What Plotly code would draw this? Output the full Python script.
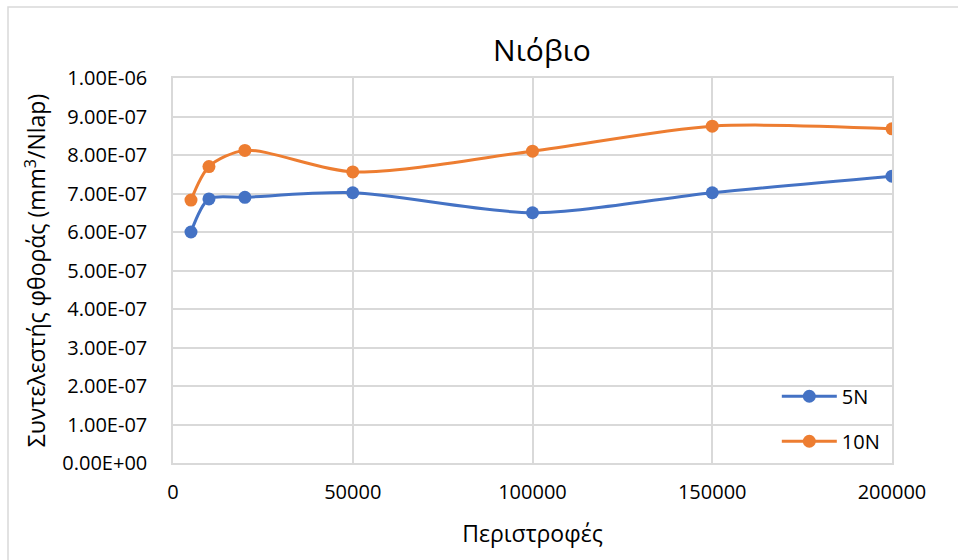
import plotly.graph_objects as go

x_vals = [5000, 10000, 20000, 50000, 100000, 150000, 200000]
y_5n = [6.00e-7, 6.86e-7, 6.90e-7, 7.02e-7, 6.50e-7, 7.02e-7, 7.45e-7]
y_10n = [6.83e-7, 7.70e-7, 8.12e-7, 7.56e-7, 8.10e-7, 8.75e-7, 8.68e-7]
y_ticks = [i * 1e-7 for i in range(11)]
y_ticktext = ["0.00E+00", "1.00E-07", "2.00E-07", "3.00E-07", "4.00E-07", "5.00E-07",
              "6.00E-07", "7.00E-07", "8.00E-07", "9.00E-07", "1.00E-06"]
x_ticks = [0, 50000, 100000, 150000, 200000]

FONT = "Open Sans"
W, H = 958, 560
L, R, T, B = 173, 66, 78, 97
pw, ph = W - L - R, H - T - B

fig = go.Figure()
fig.add_trace(go.Scatter(x=x_vals, y=y_5n, name="5N", mode="lines+markers",
                         line=dict(color="#4472C4", width=3, shape="spline", smoothing=0.8),
                         marker=dict(size=13, color="#4472C4"), legendgroup="a"))
fig.add_trace(go.Scatter(x=x_vals, y=y_10n, name="10N", mode="lines+markers",
                         line=dict(color="#ED7D31", width=3, shape="spline", smoothing=0.8),
                         marker=dict(size=13, color="#ED7D31"), legendgroup="b"))

fig.update_layout(
    width=W, height=H,
    margin=dict(l=L, r=R, t=T, b=B),
    paper_bgcolor="white", plot_bgcolor="white",
    font=dict(family=FONT, color="#000000", size=19),
    title=dict(text="Νιόβιο", x=542 / W, xanchor="center", y=1 - 50 / H, yanchor="middle",
               font=dict(size=30, family=FONT)),
    xaxis=dict(range=[0, 200000], tickvals=x_ticks, ticktext=[str(v) for v in x_ticks],
               showgrid=True, gridcolor="#D9D9D9", gridwidth=1.5, zeroline=False,
               showline=True, linecolor="#D9D9D9", mirror=True, linewidth=1.5, ticks="",
               ticklabelstandoff=10,
               title=dict(text="Περιστροφές", font=dict(size=23), standoff=22),
               tickfont=dict(size=20)),
    yaxis=dict(range=[0, 1e-6], tickvals=y_ticks, ticktext=y_ticktext,
               showgrid=True, gridcolor="#D9D9D9", gridwidth=1.5, zeroline=False,
               showline=True, linecolor="#D9D9D9", mirror=True, linewidth=1.5, ticks="",
               ticklabelstandoff=20,
               title=dict(text="Συντελεστής φθοράς (mm<sup>3</sup>/Nlap)", font=dict(size=23), standoff=10),
               tickfont=dict(size=20)),
    legend=dict(x=0.99, xanchor="right", y=0.115, yanchor="middle",
                bgcolor="rgba(0,0,0,0)", font=dict(size=20), tracegroupgap=16,
                traceorder="grouped", itemwidth=55),
    shapes=[dict(type="rect", xref="paper", yref="paper",
                 x0=(8 - L) / pw, x1=(W + 20 - L) / pw,
                 y0=-(H + 20 - (H - B)) / ph, y1=(H - 7 - B) / ph,
                 line=dict(color="#D9D9D9", width=1.5), fillcolor="rgba(0,0,0,0)", layer="below")],
)

fig.write_html("out.html")
